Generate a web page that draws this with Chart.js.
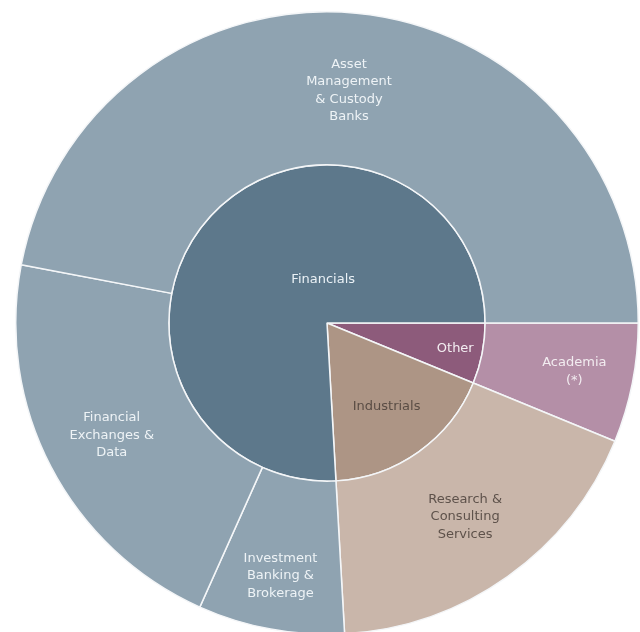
<!DOCTYPE html>
<html>
<head>
<meta charset="utf-8">
<script src="https://cdn.jsdelivr.net/npm/chart.js@4/dist/chart.umd.min.js"></script>
<style>
  html, body { margin: 0; padding: 0; background: #fff; overflow: hidden; width: 640px; height: 632px; }
  #wrap { position: absolute; left: 15px; top: 11px; width: 624px; height: 624px; }
</style>
</head>
<body>
<div id="wrap"><canvas id="sunburst"></canvas></div>
<script>
// Sectores (anillo exterior) y su grupo (anillo interior), en % del total
const outerLabels = ['Academia\n(*)', 'Research &\nConsulting\nServices', 'Investment\nBanking &\nBrokerage', 'Financial\nExchanges &\nData', 'Asset\nManagement\n& Custody\nBanks'];
const outerValues = [6.2, 17.9, 7.6, 21.3, 47.0];
const innerLabels = ['Other', 'Industrials', 'Financials'];
const innerValues = [6.2, 17.9, 75.9];

const outerColors = ['#b48fa7', '#c9b6aa', '#8fa3b1', '#8fa3b1', '#8fa3b1'];
const innerColors = ['#8d5b7b', '#ad9585', '#5d788b'];
const outerText = ['#f2ecf0', '#5e524b', '#eef3f6', '#eef3f6', '#eef3f6'];
const innerText = ['#f4eef2', '#5a4d45', '#eaf1f6'];

// Etiquetas dibujadas dentro de cada arco
const sunburstLabels = {
    id: 'sunburstLabels',
    afterDatasetsDraw(chart, args, opts) {
        const ctx = chart.ctx;
        ctx.save();
        ctx.font = '13px "DejaVu Sans", Verdana, sans-serif';
        ctx.textAlign = 'center';
        ctx.textBaseline = 'middle';
        chart.data.datasets.forEach((ds, di) => {
            const meta = chart.getDatasetMeta(di);
            meta.data.forEach((arc, i) => {
                const p = arc.getProps(['x', 'y', 'startAngle', 'endAngle', 'outerRadius']);
                const place = opts.place[di][i];
                const outerR = chart.getDatasetMeta(0).data[0].outerRadius;
                const ang = place.angle !== undefined ? place.angle * Math.PI / 180 : (p.startAngle + p.endAngle) / 2;
                const r = place.r * outerR;
                const cx = p.x + Math.cos(ang) * r;
                const cy = p.y + Math.sin(ang) * r;
                const lines = ds.labels[i].split('\n');
                const lh = 17.5;
                ctx.fillStyle = ds.textColors[i];
                lines.forEach((t, k) => {
                    ctx.fillText(t, cx, cy + (k - (lines.length - 1) / 2) * lh);
                });
            });
        });
        ctx.restore();
    }
};

new Chart(document.getElementById('sunburst'), {
    type: 'doughnut',
    data: {
        datasets: [{
            data: outerValues,
            labels: outerLabels,
            textColors: outerText,
            backgroundColor: outerColors,
            borderColor: '#f4f6f8',
            borderWidth: 1.5,
            weight: 153
        }, {
            data: innerValues,
            labels: innerLabels,
            textColors: innerText,
            backgroundColor: innerColors,
            borderColor: '#f4f6f8',
            borderWidth: 1.5,
            weight: 158
        }]
    },
    options: {
        responsive: true,
        maintainAspectRatio: false,
        animation: false,
        events: [],
        rotation: 90,
        cutout: 0,
        hoverOffset: 0,
        plugins: {
            legend: { display: false },
            tooltip: { enabled: false },
            sunburstLabels: {
                place: [
                    [{ r: 0.81 }, { r: 0.765 }, { r: 0.826 }, { r: 0.78 }, { r: 0.75 }],
                    [{ r: 0.42 }, { r: 0.33 }, { r: 0.14, angle: -95 }]
                ]
            }
        }
    },
    plugins: [sunburstLabels]
});
</script>
</body>
</html>
